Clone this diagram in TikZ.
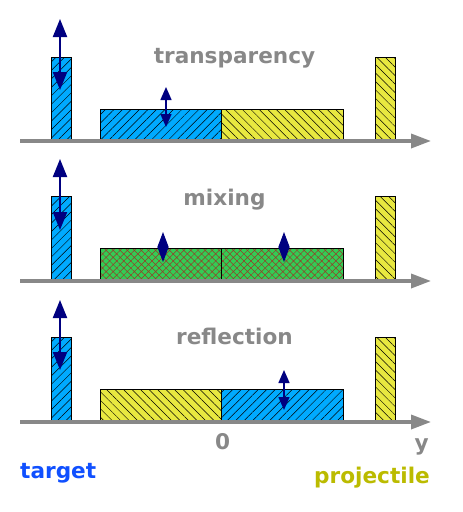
\documentclass[tikz,border=0pt]{standalone}
\usepackage{fontspec}
\setmainfont{DejaVu Sans}
\usetikzlibrary{arrows.meta,patterns.meta}

\definecolor{tblue}{RGB}{0,170,255}
\definecolor{pyellow}{RGB}{232,232,64}
\definecolor{mgreen}{RGB}{51,204,85}
\definecolor{navy}{RGB}{0,0,128}
\definecolor{axisgray}{RGB}{136,136,136}
\definecolor{labblue}{RGB}{16,80,255}
\definecolor{labolive}{RGB}{187,187,0}
\definecolor{mixred}{RGB}{150,60,40}

\tikzset{
  tgt/.style={draw=black, line width=1pt, preaction={fill=tblue},
    pattern={Lines[angle=45,distance=6pt,line width=0.5pt]}, pattern color=black},
  prj/.style={draw=black, line width=1pt, preaction={fill=pyellow},
    pattern={Lines[angle=-45,distance=6pt,line width=0.5pt]}, pattern color=black},
  mix/.style={draw=black, line width=1pt, preaction={fill=mgreen},
    pattern={Hatch[angle=45,distance=5pt,line width=0.5pt]}, pattern color=mixred},
  axis/.style={axisgray, line width=3.5pt, -{Triangle[length=20pt,width=14pt]}},
  bigarr/.style={navy, line width=2pt, {Triangle[length=18pt,width=14pt]}-{Triangle[length=18pt,width=14pt]}},
  smallarr/.style={navy, line width=1.5pt, {Triangle[length=13pt,width=11pt]}-{Triangle[length=13pt,width=11pt]}},
  mixarr/.style={navy, line width=1pt, {Triangle[length=15pt,width=11pt]}-{Triangle[length=15pt,width=11pt]}},
  title/.style={text=axisgray, font=\fontsize{21.6}{26}\selectfont\bfseries, anchor=base, inner sep=0pt},
}

\begin{document}
\begin{tikzpicture}[x=1pt,y=-1pt]
  \useasboundingbox (0,0) rectangle (463,512);

  % transparency
  \draw[tgt] (51,141) rectangle (71,57);
  \draw[tgt] (100,141) rectangle (221,109);
  \draw[prj] (221,141) rectangle (343,109);
  \draw[prj] (375,141) rectangle (395,57);
  \draw[axis] (20,141) -- (431,141);
  \draw[bigarr] (60,19) -- (60,90);
  \draw[smallarr] (166,87) -- (166,127);
  \node[title] (transp) at (234.5,63) {transparency};

  % mixing
  \draw[tgt] (51,281) rectangle (71,196);
  \draw[mix] (100,281) rectangle (221,248);
  \draw[mix] (221,281) rectangle (343,248);
  \draw[prj] (375,281) rectangle (395,196);
  \draw[axis] (20,281) -- (431,281);
  \draw[bigarr] (60,159) -- (60,230);
  \draw[mixarr] (163,232) -- (163,262);
  \draw[mixarr] (284,232) -- (284,262);
  \node[title] (mixing) at (224.5,205) {mixing};

  % reflection
  \draw[tgt] (51,422) rectangle (71,337);
  \draw[prj] (100,422) rectangle (221,389);
  \draw[tgt] (221,422) rectangle (343,389);
  \draw[prj] (375,422) rectangle (395,337);
  \draw[axis] (20,422) -- (431,422);
  \draw[bigarr] (60,300) -- (60,370);
  \draw[smallarr] (284,370) -- (284,410);
  \node[title] (refl) at (234.5,344) {reflection};

  % labels
  \node[title] (zero) at (222.7,449) {0};
  \node[title] (ylab) at (421.7,450) {y};
  \node[title, text=labblue, anchor=base west] (target) at (20,478) {target};
  \node[title, text=labolive, anchor=base east] (proj) at (430,483) {projectile};
\end{tikzpicture}
\end{document}
